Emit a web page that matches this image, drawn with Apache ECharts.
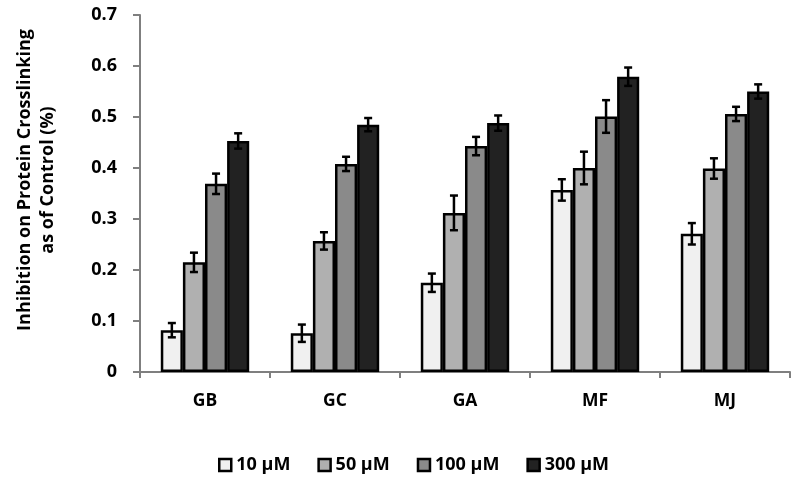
<!DOCTYPE html>
<html><head><meta charset="utf-8">
<script src="https://cdn.jsdelivr.net/npm/echarts@6/dist/echarts.min.js"></script>
<style>html,body{margin:0;padding:0;background:#fff}#c{width:800px;height:481px}</style>
</head><body><div id="c"></div>
<script>
var categories = ['GB', 'GC', 'GA', 'MF', 'MJ'];
var seriesNames = ['10 \u00b5M', '50 \u00b5M', '100 \u00b5M', '300 \u00b5M'];
var v10  = [0.082, 0.076, 0.175, 0.357, 0.271];
var v50  = [0.215, 0.257, 0.312, 0.400, 0.399];
var v100 = [0.369, 0.408, 0.443, 0.501, 0.506];
var v300 = [0.453, 0.485, 0.488, 0.579, 0.550];
var e10  = [0.014, 0.017, 0.018, 0.021, 0.021];
var e50  = [0.019, 0.017, 0.034, 0.032, 0.020];
var e100 = [0.020, 0.014, 0.018, 0.032, 0.014];
var e300 = [0.015, 0.013, 0.015, 0.018, 0.014];
var yTicks = [0, 0.1, 0.2, 0.3, 0.4, 0.5, 0.6, 0.7];

var values = [v10, v50, v100, v300];
var errors = [e10, e50, e100, e300];
var colors = ['#f0f0f0', '#b0b0b0', '#8a8a8a', '#222222'];
var font = '"Open Sans", sans-serif';
var gapFrac = 0.32;

var chart = echarts.init(document.getElementById('c'), null, {renderer: 'canvas'});
var series = [];
values.forEach(function (vals, i) {
  series.push({
    name: seriesNames[i], type: 'bar', data: vals,
    barGap: '0%', barCategoryGap: (gapFrac * 100) + '%',
    itemStyle: {color: colors[i], borderColor: '#000', borderWidth: 2.5},
    emphasis: {disabled: true}, z: 2
  });
});
values.forEach(function (vals, i) {
  series.push({
    name: 'err' + i, type: 'custom', z: 5,
    data: vals.map(function (v, k) { return [k, v, errors[i][k]]; }),
    renderItem: function (params, api) {
      var k = api.value(0), v = api.value(1), e = api.value(2);
      var cw = api.size([1, 0])[0];
      var bw = cw * (1 - gapFrac) / 4;
      var center = api.coord([k, v]);
      var x = center[0] - cw * (1 - gapFrac) / 2 + (i + 0.5) * bw;
      var hi = api.coord([k, v + e])[1], lo = api.coord([k, v - e])[1];
      var cap = 4;
      var st = {stroke: '#000', lineWidth: 2.5};
      return {type: 'group', children: [
        {type: 'line', shape: {x1: x, y1: hi, x2: x, y2: lo}, style: st},
        {type: 'line', shape: {x1: x - cap, y1: hi, x2: x + cap, y2: hi}, style: st},
        {type: 'line', shape: {x1: x - cap, y1: lo, x2: x + cap, y2: lo}, style: st}
      ]};
    }
  });
});

chart.setOption({
  animation: false,
  grid: {left: 140, right: 10, top: 15, bottom: 109, containLabel: false},
  legend: {
    data: seriesNames, top: 451, left: 213, itemWidth: 12, itemHeight: 12, itemGap: 27,
    icon: 'rect',
    textStyle: {fontFamily: font, fontWeight: 'bold', fontSize: 18, color: '#000'},
    itemStyle: {borderColor: '#000', borderWidth: 2.5}
  },
  xAxis: {
    type: 'category', data: categories,
    axisLine: {lineStyle: {color: '#7f7f7f', width: 2}},
    axisTick: {show: true, alignWithLabel: false, length: 6, lineStyle: {color: '#7f7f7f', width: 2}},
    axisLabel: {fontFamily: font, fontWeight: 'bold', fontSize: 17.5, color: '#000', margin: 20}
  },
  yAxis: {
    type: 'value', min: 0, max: 0.7, interval: 0.1,
    axisLine: {show: true, lineStyle: {color: '#7f7f7f', width: 2}},
    axisTick: {show: true, length: 7, lineStyle: {color: '#7f7f7f', width: 2}},
    splitLine: {show: false},
    axisLabel: {fontFamily: font, fontWeight: 'bold', fontSize: 18, color: '#000', margin: 23,
      formatter: function (v) { var t = yTicks.filter(function (x) { return Math.abs(x - v) < 1e-9; }); return t.length ? String(+t[0].toFixed(1)) : ''; }}
  },
  graphic: [{
    type: 'text', x: 36, y: 180, rotation: Math.PI / 2,
    style: {text: 'Inhibition on Protein Crosslinking\nas of Control (%)', align: 'center', verticalAlign: 'middle',
      font: 'bold 18px ' + font, fill: '#000', lineHeight: 23}
  }],
  series: series
});
</script></body></html>
